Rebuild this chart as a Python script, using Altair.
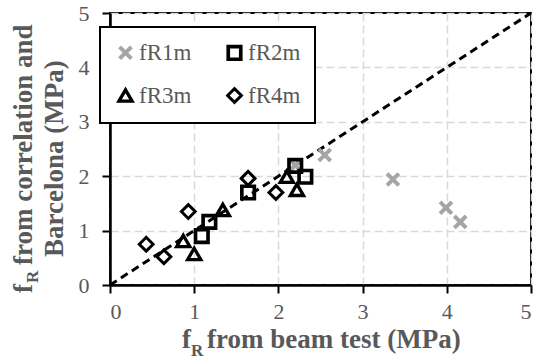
import altair as alt
import pandas as pd

series = ["fR1m", "fR2m", "fR3m", "fR4m"]
beam_fR1m = [2.20, 2.55, 3.36, 3.99, 4.16]
corr_fR1m = [2.20, 2.39, 1.94, 1.42, 1.16]
beam_fR2m = [2.20, 2.32, 1.64, 1.18, 1.09]
corr_fR2m = [2.19, 1.99, 1.70, 1.16, 0.90]
beam_fR3m = [2.10, 2.22, 1.34, 0.87, 1.00]
corr_fR3m = [1.99, 1.75, 1.38, 0.81, 0.57]
beam_fR4m = [1.64, 1.97, 0.93, 0.43, 0.64]
corr_fR4m = [1.96, 1.70, 1.35, 0.75, 0.52]
tick_values = [0, 1, 2, 3, 4, 5]
line_x = [0, 5]
line_y = [0, 5]

rows = []
for name, bx, cy in zip(series,
                        [beam_fR1m, beam_fR2m, beam_fR3m, beam_fR4m],
                        [corr_fR1m, corr_fR2m, corr_fR3m, corr_fR4m]):
    for a, b in zip(bx, cy):
        rows.append({"series": name, "beam": a, "corr": b})
df = pd.DataFrame(rows)
line_df = pd.DataFrame({"beam": line_x, "corr": line_y})

FONT = "Liberation Serif"
GRAY = "#595959"
X_PATH = "M-1,-1L1,1M1,-1L-1,1"

xs = alt.Scale(domain=[0, 5], nice=False)
ys = alt.Scale(domain=[0, 5], nice=False)

ax_common = dict(values=tick_values, title=None, format="d",
                 labelFont=FONT, labelFontSize=22, labelColor=GRAY)

diag = alt.Chart(line_df).mark_line(
    color="black", strokeWidth=3, strokeDash=[8, 5]
).encode(
    x=alt.X("beam:Q", scale=xs, axis=alt.Axis(labelPadding=8, **ax_common)),
    y=alt.Y("corr:Q", scale=ys, axis=alt.Axis(labelPadding=13, **ax_common)),
)

leg = alt.Legend(title=None, direction="horizontal", columns=2,
                 labelFont=FONT, labelFontSize=23, labelColor=GRAY)

pts = alt.Chart(df).mark_point(filled=False, opacity=1).encode(
    x=alt.X("beam:Q", scale=xs),
    y=alt.Y("corr:Q", scale=ys),
    shape=alt.Shape("series:N", scale=alt.Scale(domain=series,
                    range=[X_PATH, "square", "triangle-up", "diamond"]), legend=leg),
    color=alt.Color("series:N", scale=alt.Scale(domain=series,
                    range=["#a5a5a5", "black", "black", "black"]), legend=leg),
    strokeWidth=alt.StrokeWidth("series:N", scale=alt.Scale(domain=series,
                    range=[4, 3, 3, 2.5]), legend=leg),
    size=alt.Size("series:N", scale=alt.Scale(domain=series,
                    range=[140, 190, 140, 140]), legend=leg),
)

def txt(s, x, y, size, angle=0):
    d = pd.DataFrame({"t": [s]})
    kw = dict(align="left", baseline="alphabetic", font=FONT, fontSize=size,
              fontWeight="bold", color=GRAY)
    if angle:
        kw["angle"] = angle
    return alt.Chart(d).mark_text(**kw).encode(
        x=alt.value(x), y=alt.value(y), text="t:N")

titles = [
    txt("f", 72, 335, 27),
    txt("R", 81, 343, 17),
    txt("from beam test (MPa)", 97, 335, 27),
    txt("f", -78, 280, 27, 270),
    txt("R", -72, 270, 17, 270),
    txt("from correlation and", -78, 252, 27, 270),
    txt("Barcelona (MPa)", -47, 244, 27, 270),
]

chart = alt.layer(diag, pts, *titles).properties(
    width=421, height=272,
    autosize=alt.AutoSizeParams(type="none"),
    padding={"left": 110, "top": 13, "right": 3, "bottom": 77},
).configure(
    font=FONT
).configure_view(
    stroke="black", strokeWidth=2
).configure_axis(
    domainColor="black", domainWidth=2.5,
    gridColor="#d9d9d9", gridDash=[8, 4], gridWidth=1.5,
    tickColor="black", tickWidth=2, tickSize=8,
).configure_legend(
    orient="none", legendX=-10, legendY=14,
    strokeColor="black", strokeWidth=2, fillColor="white",
    padding=14, rowPadding=15, columnPadding=28, labelOffset=2,
    symbolSize=150, symbolFillColor="transparent",
)

chart.save("out.html", embed_options={"renderer": "svg", "actions": False})
